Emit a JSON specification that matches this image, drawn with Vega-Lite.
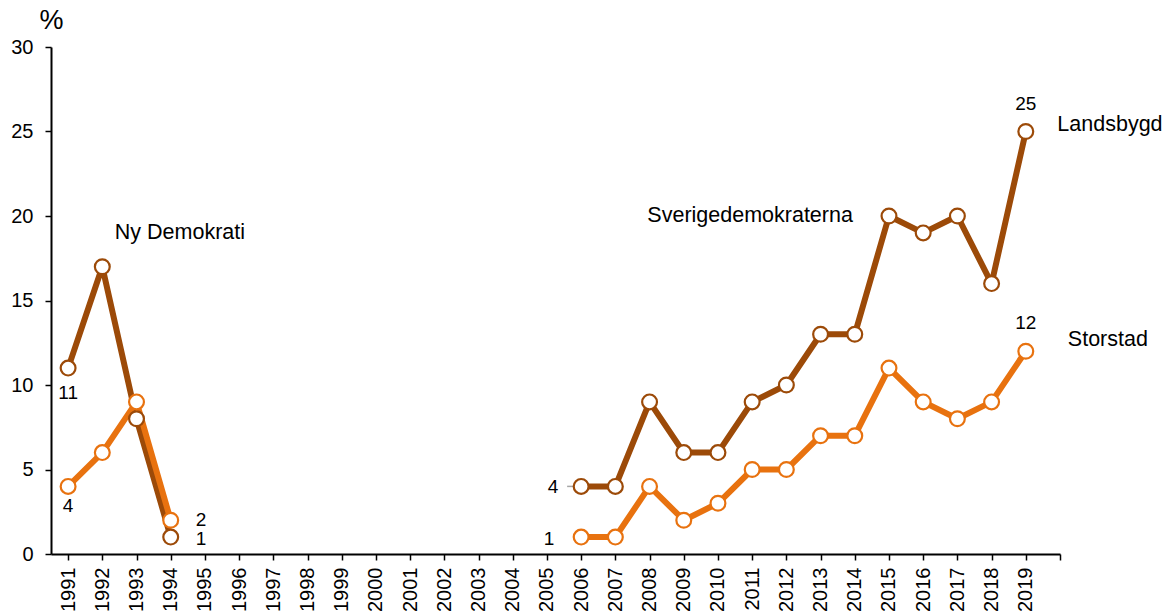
{
  "$schema": "https://vega.github.io/schema/vega-lite/v6.json",
  "autosize": {"type": "none"},
  "padding": {"left": 51, "top": 47, "right": 108, "bottom": 61},
  "width": 1009,
  "height": 507,
  "background": "white",
  "config": {
    "view": {"stroke": null},
    "font": "Liberation Sans",
    "text": {"font": "Liberation Sans", "fontSize": 19, "color": "#000000"},
    "axisX": {"labelOverlap": false}
  },
  "datasets": {
    "series": [
      {"year": 1991, "value": 11, "series": "Landsbygd", "seg": "a"},
      {"year": 1992, "value": 17, "series": "Landsbygd", "seg": "a"},
      {"year": 1993, "value": 8, "series": "Landsbygd", "seg": "a"},
      {"year": 1994, "value": 1, "series": "Landsbygd", "seg": "a"},
      {"year": 2006, "value": 4, "series": "Landsbygd", "seg": "b"},
      {"year": 2007, "value": 4, "series": "Landsbygd", "seg": "b"},
      {"year": 2008, "value": 9, "series": "Landsbygd", "seg": "b"},
      {"year": 2009, "value": 6, "series": "Landsbygd", "seg": "b"},
      {"year": 2010, "value": 6, "series": "Landsbygd", "seg": "b"},
      {"year": 2011, "value": 9, "series": "Landsbygd", "seg": "b"},
      {"year": 2012, "value": 10, "series": "Landsbygd", "seg": "b"},
      {"year": 2013, "value": 13, "series": "Landsbygd", "seg": "b"},
      {"year": 2014, "value": 13, "series": "Landsbygd", "seg": "b"},
      {"year": 2015, "value": 20, "series": "Landsbygd", "seg": "b"},
      {"year": 2016, "value": 19, "series": "Landsbygd", "seg": "b"},
      {"year": 2017, "value": 20, "series": "Landsbygd", "seg": "b"},
      {"year": 2018, "value": 16, "series": "Landsbygd", "seg": "b"},
      {"year": 2019, "value": 25, "series": "Landsbygd", "seg": "b"},
      {"year": 1991, "value": 4, "series": "Storstad", "seg": "a"},
      {"year": 1992, "value": 6, "series": "Storstad", "seg": "a"},
      {"year": 1993, "value": 9, "series": "Storstad", "seg": "a"},
      {"year": 1994, "value": 2, "series": "Storstad", "seg": "a"},
      {"year": 2006, "value": 1, "series": "Storstad", "seg": "b"},
      {"year": 2007, "value": 1, "series": "Storstad", "seg": "b"},
      {"year": 2008, "value": 4, "series": "Storstad", "seg": "b"},
      {"year": 2009, "value": 2, "series": "Storstad", "seg": "b"},
      {"year": 2010, "value": 3, "series": "Storstad", "seg": "b"},
      {"year": 2011, "value": 5, "series": "Storstad", "seg": "b"},
      {"year": 2012, "value": 5, "series": "Storstad", "seg": "b"},
      {"year": 2013, "value": 7, "series": "Storstad", "seg": "b"},
      {"year": 2014, "value": 7, "series": "Storstad", "seg": "b"},
      {"year": 2015, "value": 11, "series": "Storstad", "seg": "b"},
      {"year": 2016, "value": 9, "series": "Storstad", "seg": "b"},
      {"year": 2017, "value": 8, "series": "Storstad", "seg": "b"},
      {"year": 2018, "value": 9, "series": "Storstad", "seg": "b"},
      {"year": 2019, "value": 12, "series": "Storstad", "seg": "b"}
    ],
    "numbers": [
      {"x": 1991, "y": 9.53, "text": "11"},
      {"x": 1991, "y": 2.84, "text": "4"},
      {"x": 1994.89, "y": 2.0, "text": "2"},
      {"x": 1994.89, "y": 0.86, "text": "1"},
      {"x": 2005.18, "y": 3.96, "text": "4"},
      {"x": 2005.06, "y": 0.89, "text": "1"},
      {"x": 2019, "y": 26.6, "text": "25"},
      {"x": 2019, "y": 13.67, "text": "12"}
    ],
    "names": [
      {"x": 1994.27, "y": 19.0, "text": "Ny Demokrati"},
      {"x": 2010.94, "y": 20.0, "text": "Sverigedemokraterna"},
      {"x": 2021.46, "y": 25.4, "text": "Landsbygd"},
      {"x": 2021.4, "y": 12.66, "text": "Storstad"}
    ],
    "leader": [
      {"x": 2005.59, "x2": 2005.9, "y": 4}
    ]
  },
  "layer": [
    {
      "data": {"name": "series"},
      "mark": {"type": "line", "strokeWidth": 6, "strokeJoin": "round"},
      "encoding": {
        "x": {
          "field": "year", "type": "quantitative",
          "scale": {"domain": [1990.5, 2020.0], "nice": false, "zero": false},
          "axis": {
            "title": null,
            "values": [1991,1992,1993,1994,1995,1996,1997,1998,1999,2000,2001,2002,2003,2004,2005,2006,2007,2008,2009,2010,2011,2012,2013,2014,2015,2016,2017,2018,2019,2020],
            "tickCount": 60,
            "labelExpr": "datum.value > 2019 ? '' : datum.label",
            "format": "d",
            "labelAngle": -90,
            "labelAlign": "right",
            "labelBaseline": "middle",
            "labelFont": "Liberation Sans",
            "labelFontSize": 20,
            "labelColor": "#000000",
            "labelPadding": 7,
            "labelOverlap": false,
            "labelFlush": false,
            "grid": false,
            "domainColor": "#000000",
            "domainWidth": 2,
            "tickColor": "#000000",
            "tickWidth": 1.5,
            "tickSize": 6
          }
        },
        "y": {
          "field": "value", "type": "quantitative",
          "scale": {"domain": [0, 30], "nice": false},
          "axis": {
            "values": [0, 5, 10, 15, 20, 25, 30],
            "tickCount": 20,
            "title": "%",
            "titleAngle": 0,
            "titleAlign": "center",
            "titleBaseline": "bottom",
            "titleX": 0,
            "titleY": -13,
            "titleFont": "Liberation Sans",
            "titleFontSize": 27,
            "titleFontWeight": "normal",
            "titleColor": "#000000",
            "labelFont": "Liberation Sans",
            "labelFontSize": 20,
            "labelColor": "#000000",
            "labelPadding": 12,
            "labelFlush": false,
            "grid": false,
            "domainColor": "#000000",
            "domainWidth": 2,
            "tickColor": "#000000",
            "tickWidth": 1.5,
            "tickSize": 6
          }
        },
        "color": {
          "field": "series", "type": "nominal",
          "scale": {"domain": ["Landsbygd", "Storstad"], "range": ["#9c4a08", "#e8720f"]},
          "legend": null
        },
        "detail": {"field": "seg"}
      }
    },
    {
      "data": {"name": "leader"},
      "mark": {"type": "rule", "color": "#a6a6a6", "strokeWidth": 1.5},
      "encoding": {
        "x": {"field": "x", "type": "quantitative"},
        "x2": {"field": "x2"},
        "y": {"field": "y", "type": "quantitative"}
      }
    },
    {
      "data": {"name": "series"},
      "mark": {"type": "point", "shape": "circle", "filled": false, "fill": "white", "fillOpacity": 1, "strokeWidth": 2.2, "size": 220, "opacity": 1},
      "encoding": {
        "x": {"field": "year", "type": "quantitative"},
        "y": {"field": "value", "type": "quantitative"},
        "color": {"field": "series", "type": "nominal", "legend": null}
      }
    },
    {
      "data": {"name": "numbers"},
      "mark": {"type": "text", "align": "center", "baseline": "middle", "fontSize": 19},
      "encoding": {
        "x": {"field": "x", "type": "quantitative"},
        "y": {"field": "y", "type": "quantitative"},
        "text": {"field": "text"}
      }
    },
    {
      "data": {"name": "names"},
      "mark": {"type": "text", "align": "center", "baseline": "middle", "fontSize": 21.5},
      "encoding": {
        "x": {"field": "x", "type": "quantitative"},
        "y": {"field": "y", "type": "quantitative"},
        "text": {"field": "text"}
      }
    }
  ]
}
